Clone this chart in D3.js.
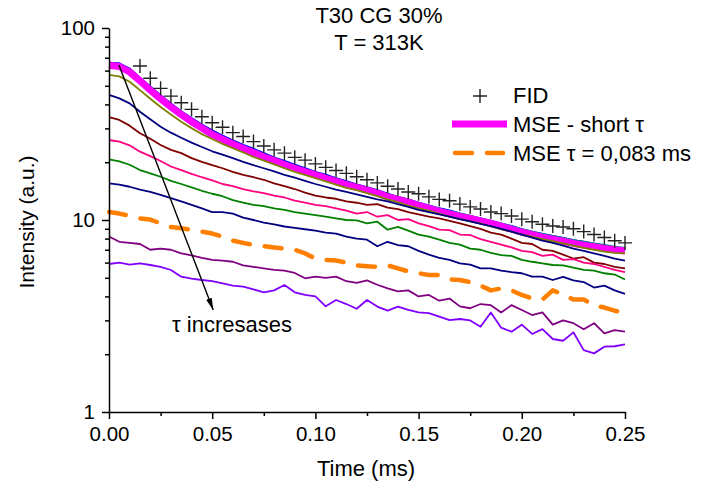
<!DOCTYPE html>
<html><head><meta charset="utf-8">
<script src="https://cdn.jsdelivr.net/npm/d3@7"></script>
<style>body{margin:0;background:#fff} text{font-family:"Liberation Sans",Arial,sans-serif;fill:#000}</style>
</head><body><svg id="c" width="702" height="485"></svg>
<script>
// ---- data ----
const time = [0,0.005,0.01,0.015,0.02,0.025,0.03,0.035,0.04,0.045,
  0.05,0.055,0.06,0.065,0.07,0.075,0.08,0.085,0.09,0.095,
  0.1,0.105,0.11,0.115,0.12,0.125,0.13,0.135,0.14,0.145,
  0.15,0.155,0.16,0.165,0.17,0.175,0.18,0.185,0.19,0.195,
  0.2,0.205,0.21,0.215,0.22,0.225,0.23,0.235,0.24,0.245,0.25];
const fidTime = [0.015,0.02,0.025,0.03,0.035,0.04,0.045,0.05,0.055,0.06,
  0.065,0.07,0.075,0.08,0.085,0.09,0.095,0.1,0.105,0.11,
  0.115,0.12,0.125,0.13,0.135,0.14,0.145,0.15,0.155,0.16,
  0.165,0.17,0.175,0.18,0.185,0.19,0.195,0.2,0.205,0.21,
  0.215,0.22,0.225,0.23,0.235,0.24,0.245,0.25];
const fid = [63.4,54.7,48.5,44.2,40.8,37.7,34.5,32.1,30.4,28.5,
  27.2,25.6,24.3,23.2,22.3,21.2,20.5,19.6,18.8,18.1,
  17.5,16.8,16.2,15.6,15.0,14.5,14.0,13.7,13.2,12.8,
  12.6,12.1,11.7,11.4,11.0,10.8,10.5,10.1,9.8,9.5,
  9.3,9.2,9.0,8.7,8.4,8.1,7.8,7.6];
const mseBlue = [66.0,65.5,61.5,55.0,49.5,44.6,40.4,36.8,33.9,31.4,
  29.3,27.5,26.0,24.6,23.5,22.3,21.2,20.3,19.4,18.6,
  17.8,17.2,16.5,15.9,15.3,14.8,14.3,13.7,13.2,12.8,
  12.3,11.9,11.5,11.2,10.8,10.5,10.2,9.9,9.6,9.3,
  8.95,8.7,8.45,8.25,8.05,7.85,7.7,7.5,7.35,7.2,7.1];
const mseTeal = [65.0,64.5,60.5,54.0,48.5,43.8,39.8,36.3,33.4,30.8,
  28.7,27.0,25.5,24.2,23.1,21.9,20.9,20.0,19.1,18.3,
  17.6,16.9,16.3,15.7,15.1,14.6,14.1,13.6,13.1,12.7,
  12.2,11.8,11.45,11.1,10.8,10.5,10.2,9.85,9.55,9.25,
  8.95,8.7,8.45,8.25,8.05,7.85,7.7,7.55,7.4,7.25,7.15];
const mseShort = [64.0,63.0,59.0,53.0,47.5,42.8,38.8,35.4,32.5,30.1,
  27.9,26.3,24.8,23.6,22.4,21.3,20.4,19.4,18.6,17.8,
  17.2,16.5,15.9,15.3,14.8,14.3,13.8,13.2,12.8,12.4,
  11.9,11.5,11.1,10.75,10.45,10.2,9.9,9.6,9.3,8.95,
  8.65,8.4,8.15,7.95,7.75,7.55,7.4,7.25,7.1,7.0,6.9];
const mseOlive = [57.0,56.0,52.5,47.5,42.8,38.8,35.4,32.5,30.1,28.0,
  26.4,24.9,23.7,22.5,21.3,20.4,19.5,18.6,17.8,17.2,
  16.5,15.9,15.3,14.7,14.3,13.8,13.3,12.8,12.4,11.9,
  11.5,11.2,10.8,10.4,10.1,9.85,9.6,9.25,8.95,8.7,
  8.4,8.2,7.95,7.75,7.55,7.35,7.15,7.0,6.85,6.75,6.7];
const mseNavy = [44.8,43.0,40.5,36.6,33.5,30.6,28.5,26.8,25.3,24.0,
  22.8,21.9,21.0,20.1,19.3,18.6,17.9,17.2,16.6,16.0,
  15.4,14.9,14.4,14.0,13.6,13.2,12.8,12.5,12.1,11.7,
  11.3,11.0,10.7,10.4,10.1,9.85,9.55,9.3,9.0,8.7,
  8.4,8.1,7.8,7.6,7.35,7.1,6.9,6.7,6.5,6.3,6.15];
const mseDarkRed = [34.3,33.2,31.0,28.3,26.5,24.6,23.2,22.3,21.0,20.1,
  19.3,18.6,17.8,17.2,16.7,16.2,15.5,15.0,14.5,13.9,
  13.4,13.1,12.9,12.5,12.3,12.0,12.1,11.6,11.4,11.0,
  10.7,10.4,10.2,9.9,9.6,9.3,9.0,8.6,8.4,8.0,
  7.6,7.5,7.0,6.9,6.6,6.3,6.4,6.0,5.9,5.7,5.6];
const msePink = [26.1,25.6,24.5,22.7,21.5,20.3,19.0,18.2,17.4,16.7,
  16.1,15.4,15.0,14.5,14.1,13.8,13.4,13.1,12.6,12.3,
  12.0,11.8,11.5,11.2,10.8,11.0,10.4,10.6,10.0,10.1,
  9.6,9.3,8.9,8.85,8.4,8.35,7.95,7.7,7.45,7.2,
  6.9,6.8,6.5,6.6,6.2,6.25,6.0,5.9,5.7,5.5,5.35];
const mseGreen = [20.7,20.2,19.4,18.2,17.5,16.8,16.0,15.4,14.8,14.2,
  13.7,13.3,12.7,12.3,12.0,11.8,11.5,11.3,11.0,10.8,
  10.6,10.4,10.2,10.0,9.95,9.6,9.8,8.9,9.2,8.8,
  8.4,8.2,7.9,7.6,7.45,7.1,7.0,6.75,6.57,6.5,
  6.2,6.06,5.95,5.83,5.8,5.65,5.5,5.45,5.28,5.2,4.9];
const mseNavy2 = [15.5,15.3,14.9,14.4,14.0,13.5,13.0,12.5,12.0,11.5,
  11.0,11.0,10.8,10.3,10.0,9.7,9.5,9.25,9.1,8.95,
  8.8,8.6,8.5,8.2,8.0,7.9,7.3,7.7,7.4,7.3,
  6.9,6.6,6.35,6.2,5.95,5.85,5.6,5.6,5.45,5.35,
  5.28,5.07,5.07,4.87,5.05,4.85,4.75,4.45,4.55,4.3,4.12];
const mse083 = [11.0,10.8,10.5,10.2,10.05,9.6,9.2,9.05,8.9,8.7,
  8.5,8.2,7.8,7.6,7.4,7.3,7.2,7.1,7.0,6.7,
  6.3,6.2,6.15,6.0,5.8,5.75,5.7,5.8,5.6,5.4,
  5.28,5.17,5.17,4.9,4.87,4.75,4.55,4.3,4.4,4.3,
  4.07,3.9,3.85,4.3,4.1,3.85,3.85,3.6,3.5,3.37,3.27];
const msePurple = [8.2,7.7,7.6,7.5,7.0,7.1,7.0,6.7,6.55,6.35,
  6.2,6.15,6.06,5.8,5.7,5.6,5.5,5.45,5.3,4.97,
  5.07,5.0,5.07,4.8,4.7,4.85,4.6,4.4,4.25,4.3,
  4.0,4.07,3.8,3.9,3.55,3.47,3.65,3.6,3.3,3.6,
  3.4,3.2,3.3,2.85,3.0,2.9,2.7,2.9,2.57,2.67,2.62];
const mseViolet = [5.9,6.0,5.85,5.95,5.83,5.7,5.49,5.07,4.95,4.87,
  4.8,4.68,4.55,4.5,4.35,4.2,4.3,4.59,4.2,4.07,
  4.0,3.55,3.83,3.65,3.45,3.83,3.54,3.37,3.54,3.4,
  3.3,3.27,3.14,3.01,3.05,3.0,2.78,3.3,2.75,2.62,
  2.85,2.55,2.7,2.4,2.35,2.6,2.1,2.02,2.19,2.2,2.25];
const xTicks = [0,0.05,0.1,0.15,0.2,0.25];
const xMinorTicks = [0.025,0.075,0.125,0.175,0.225];
const yTicks = [1,10,100];
const yMinorTicks = [2,3,4,5,6,7,8,9,20,30,40,50,60,70,80,90];
const titleLines = ["T30 CG 30%","T = 313K"];
const legendLabels = ["FID","MSE - short \u03c4","MSE \u03c4 = 0,083 ms"];
const arrowFrom = [0.0048,64.2], arrowTo = [0.0505,3.4];
const annotation = "\u03c4 incresases";

// ---- styles (draw order) ----
const series = [
  {v: mseBlue, c: "#0000ff", w: 2},
  {v: mseTeal, c: "#008080", w: 2},
  {v: mseShort, c: "#ff00ff", w: 7},
  {v: mseOlive, c: "#808000", w: 1.8},
  {v: mseNavy, c: "#000080", w: 1.8},
  {v: mseDarkRed, c: "#800000", w: 1.8},
  {v: msePink, c: "#ff0080", w: 1.8},
  {v: mseGreen, c: "#008000", w: 1.8},
  {v: mseNavy2, c: "#000080", w: 1.8},
  {v: mse083, c: "#ff8000", w: 4.5, dash: "17,15"},
  {v: msePurple, c: "#800080", w: 1.8},
  {v: mseViolet, c: "#8000ff", w: 1.8}
];

const svg = d3.select("#c");
const x = d3.scaleLinear().domain([0,0.25]).range([109,625]);
const y = d3.scaleLog().domain([1,100]).range([412,28]);

const line = d3.line().x((d,i)=>x(time[i])).y(d=>y(d));
svg.append("g").selectAll("path").data(series).join("path")
  .attr("d", s=>line(s.v)).attr("fill","none")
  .attr("stroke", s=>s.c).attr("stroke-width", s=>s.w)
  .attr("stroke-dasharray", s=>s.dash||null)
  .attr("stroke-linejoin","round").attr("stroke-linecap", s=>s.dash?"round":"butt");

// FID crosses
const cross = "M-7,0H7M0,-7V7";
svg.append("g").selectAll("path").data(fid).join("path")
  .attr("d", cross).attr("transform",(d,i)=>`translate(${x(fidTime[i])},${y(d)})`)
  .attr("stroke","#222").attr("stroke-width",1.4).attr("fill","none");

// axes
svg.append("g").attr("transform","translate(0,412)")
  .call(d3.axisBottom(x).tickValues(xTicks).tickFormat(d3.format(".2f")).tickSizeInner(7).tickSizeOuter(0).tickPadding(7));
svg.append("g").attr("transform","translate(0,412)")
  .call(d3.axisBottom(x).tickValues(xMinorTicks).tickFormat("").tickSizeInner(4).tickSizeOuter(0))
  .select(".domain").remove();
svg.append("g").attr("transform","translate(109,0)")
  .call(d3.axisLeft(y).tickValues(yTicks).tickFormat(d=>String(d)).tickSizeInner(7).tickSizeOuter(0).tickPadding(7));
svg.append("g").attr("transform","translate(109,0)")
  .call(d3.axisLeft(y).tickValues(yMinorTicks).tickFormat("").tickSizeInner(4).tickSizeOuter(0))
  .select(".domain").remove();
svg.selectAll(".domain, .tick line").attr("stroke","#000").attr("stroke-width",1.5);
svg.selectAll(".tick text").attr("font-size",20.5).attr("font-family",'"Liberation Sans",Arial,sans-serif').attr("fill","#000");

// axis titles
svg.append("text").attr("x",366).attr("y",476).attr("text-anchor","middle").attr("font-size",22).text("Time (ms)");
svg.append("text").attr("transform","translate(34,222) rotate(-90)").attr("text-anchor","middle").attr("font-size",21).text("Intensity (a.u.)");

// title
svg.append("g").selectAll("text").data(titleLines).join("text")
  .attr("x",379).attr("y",(d,i)=>23+i*27).attr("text-anchor","middle").attr("font-size",22).text(d=>d);

// legend
const lg = svg.append("g");
lg.append("path").attr("d",cross).attr("transform","translate(480,96)").attr("stroke","#222").attr("stroke-width",1.4);
lg.append("line").attr("x1",452).attr("x2",507).attr("y1",124).attr("y2",124).attr("stroke","#ff00ff").attr("stroke-width",7);
lg.append("line").attr("x1",455).attr("x2",503).attr("y1",153).attr("y2",153).attr("stroke","#ff8000").attr("stroke-width",4.5).attr("stroke-dasharray","17,15").attr("stroke-linecap","round");
lg.selectAll("text").data(legendLabels).join("text")
  .attr("x",513).attr("y",(d,i)=>103+i*29).attr("font-size",22).text(d=>d);

// arrow annotation
svg.append("defs").append("marker").attr("id","ah").attr("viewBox","0 0 12 6")
  .attr("refX",12).attr("refY",3).attr("markerWidth",12).attr("markerHeight",6)
  .attr("markerUnits","userSpaceOnUse").attr("orient","auto")
  .append("path").attr("d","M0,0L12,3L0,6Z").attr("fill","#000");
svg.append("line").attr("x1",x(arrowFrom[0])).attr("y1",y(arrowFrom[1]))
  .attr("x2",x(arrowTo[0])).attr("y2",y(arrowTo[1]))
  .attr("stroke","#000").attr("stroke-width",1.4).attr("marker-end","url(#ah)");
svg.append("text").attr("x",172).attr("y",332).attr("font-size",22).text(annotation);
</script></body></html>
